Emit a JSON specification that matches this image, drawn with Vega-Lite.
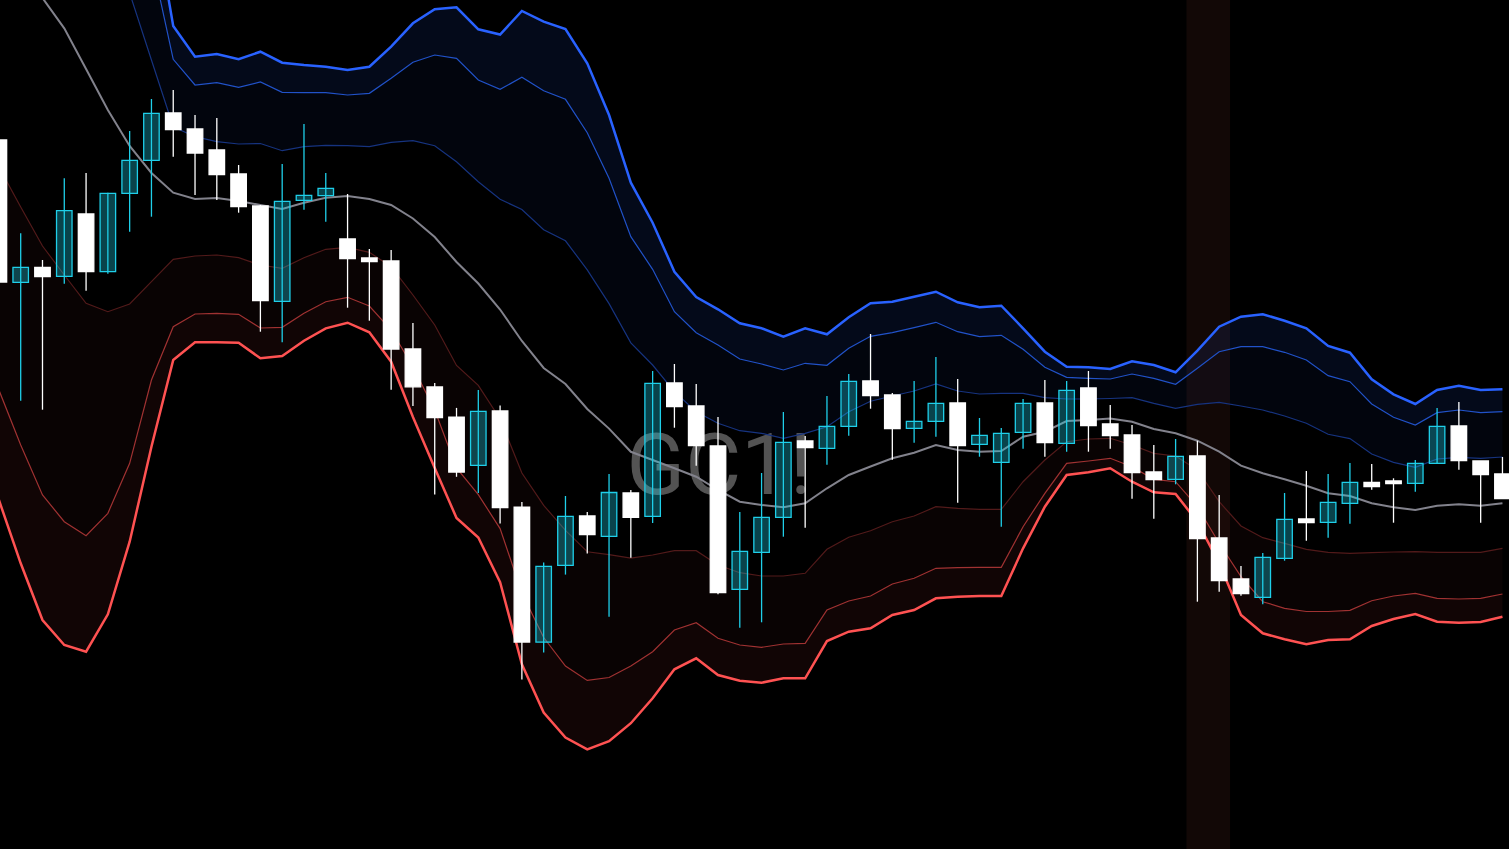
{
"$schema": "https://vega.github.io/schema/vega-lite/v6.json",
"width": 1509, "height": 849, "padding": 0, "autosize": {"type": "fit", "contains": "padding"},
"background": "#000000",
"config": {"view": {"stroke": null}},
"datasets": {
"band": [{"s": 54.5, "e": 56.5}],
"wm": [{"t": "GC1!", "x": 33.05, "y": 2050.6}],
"bars": [
{"i":0,"o":2086.0,"h":2087.2,"l":2070.0,"c":2071.8,"m":2107.0,"u1":2126,"u2":2133,"u3":2140,"l1":2083.3,"l2":2061.0,"l3":2050.0},
{"i":1,"o":2071.77,"h":2076.67,"l":2059.93,"c":2073.27,"m":2103.5,"u1":2122,"u2":2130,"u3":2137,"l1":2079.3,"l2":2055.5,"l3":2043.67},
{"i":2,"o":2073.27,"h":2074.0,"l":2059.03,"c":2072.33,"m":2100.2,"u1":2118,"u2":2126.5,"u3":2133,"l1":2075.4,"l2":2050.5,"l3":2038.0},
{"i":3,"o":2072.37,"h":2082.17,"l":2071.63,"c":2078.93,"m":2097.17,"u1":2114,"u2":2123,"u3":2129,"l1":2072.5,"l2":2047.83,"l3":2035.5},
{"i":4,"o":2078.6,"h":2082.7,"l":2070.93,"c":2072.83,"m":2093.1,"u1":2110,"u2":2119,"u3":2125,"l1":2069.67,"l2":2046.43,"l3":2034.83},
{"i":5,"o":2072.83,"h":2080.73,"l":2072.63,"c":2080.67,"m":2089.0,"u1":2105.5,"u2":2114.5,"u3":2120,"l1":2068.83,"l2":2048.67,"l3":2038.57},
{"i":6,"o":2080.67,"h":2086.9,"l":2076.83,"c":2083.97,"m":2085.4,"u1":2100.7,"u2":2110,"u3":2115,"l1":2069.6,"l2":2053.67,"l3":2045.83},
{"i":7,"o":2083.97,"h":2090.1,"l":2078.33,"c":2088.67,"m":2082.7,"u1":2094.0,"u2":2104.1,"u3":2110,"l1":2071.83,"l2":2062.0,"l3":2055.33},
{"i":8,"o":2088.7,"h":2091.0,"l":2084.33,"c":2087.03,"m":2080.73,"u1":2087.33,"u2":2094.07,"u3":2097.4,"l1":2074.07,"l2":2067.33,"l3":2064.0},
{"i":9,"o":2087.1,"h":2088.5,"l":2080.5,"c":2084.7,"m":2080.1,"u1":2086.33,"u2":2091.5,"u3":2094.33,"l1":2074.4,"l2":2068.6,"l3":2065.77},
{"i":10,"o":2085.0,"h":2088.2,"l":2080.0,"c":2082.53,"m":2080.2,"u1":2085.83,"u2":2091.73,"u3":2094.6,"l1":2074.5,"l2":2068.67,"l3":2065.77},
{"i":11,"o":2082.6,"h":2083.5,"l":2078.73,"c":2079.33,"m":2079.9,"u1":2085.6,"u2":2091.27,"u3":2094.07,"l1":2074.23,"l2":2068.57,"l3":2065.73},
{"i":12,"o":2079.4,"h":2079.5,"l":2066.83,"c":2069.93,"m":2079.5,"u1":2085.65,"u2":2091.8,"u3":2094.83,"l1":2073.5,"l2":2067.2,"l3":2064.17},
{"i":13,"o":2069.87,"h":2083.6,"l":2065.77,"c":2079.87,"m":2079.1,"u1":2084.93,"u2":2090.77,"u3":2093.73,"l1":2073.17,"l2":2067.27,"l3":2064.4},
{"i":14,"o":2079.97,"h":2087.6,"l":2079.03,"c":2080.47,"m":2079.73,"u1":2085.33,"u2":2090.73,"u3":2093.5,"l1":2074.23,"l2":2068.67,"l3":2065.93},
{"i":15,"o":2080.43,"h":2082.7,"l":2077.83,"c":2081.17,"m":2080.23,"u1":2085.47,"u2":2090.73,"u3":2093.33,"l1":2075.07,"l2":2069.83,"l3":2067.17},
{"i":16,"o":2076.1,"h":2080.6,"l":2069.23,"c":2074.13,"m":2080.4,"u1":2085.43,"u2":2090.5,"u3":2093.0,"l1":2075.27,"l2":2070.27,"l3":2067.73},
{"i":17,"o":2074.2,"h":2075.1,"l":2067.93,"c":2073.83,"m":2080.1,"u1":2085.33,"u2":2090.67,"u3":2093.33,"l1":2074.77,"l2":2069.4,"l3":2066.77},
{"i":18,"o":2073.9,"h":2075.0,"l":2061.03,"c":2065.1,"m":2079.5,"u1":2085.77,"u2":2092.17,"u3":2095.33,"l1":2073.33,"l2":2067.0,"l3":2063.83},
{"i":19,"o":2065.1,"h":2067.7,"l":2059.4,"c":2061.32,"m":2078.15,"u1":2085.93,"u2":2093.77,"u3":2097.67,"l1":2070.5,"l2":2063.33,"l3":2058.3},
{"i":20,"o":2061.3,"h":2061.7,"l":2050.54,"c":2058.25,"m":2076.3,"u1":2085.43,"u2":2094.5,"u3":2099.07,"l1":2067.5,"l2":2059.0,"l3":2053.2},
{"i":21,"o":2058.29,"h":2059.21,"l":2052.32,"c":2052.79,"m":2073.8,"u1":2083.83,"u2":2094.17,"u3":2099.27,"l1":2063.45,"l2":2053.2,"l3":2048.2},
{"i":22,"o":2053.46,"h":2061.0,"l":2050.71,"c":2058.86,"m":2071.65,"u1":2081.83,"u2":2092.0,"u3":2097.07,"l1":2061.47,"l2":2050.54,"l3":2046.25},
{"i":23,"o":2058.9,"h":2059.46,"l":2047.64,"c":2049.25,"m":2069.05,"u1":2080.07,"u2":2091.07,"u3":2096.55,"l1":2058.1,"l2":2047.14,"l3":2041.79},
{"i":24,"o":2049.29,"h":2049.8,"l":2032.04,"c":2035.79,"m":2065.9,"u1":2079.05,"u2":2092.27,"u3":2098.9,"l1":2052.7,"l2":2040.71,"l3":2033.57},
{"i":25,"o":2035.79,"h":2043.75,"l":2034.75,"c":2043.36,"m":2063.2,"u1":2077.02,"u2":2090.93,"u3":2097.83,"l1":2049.46,"l2":2036.25,"l3":2028.75},
{"i":26,"o":2043.46,"h":2050.4,"l":2042.54,"c":2048.36,"m":2061.6,"u1":2075.92,"u2":2090.07,"u3":2097.1,"l1":2046.96,"l2":2033.4,"l3":2026.25},
{"i":27,"o":2048.4,"h":2048.8,"l":2044.64,"c":2046.54,"m":2059.1,"u1":2073.02,"u2":2086.73,"u3":2093.67,"l1":2044.82,"l2":2031.96,"l3":2025.07},
{"i":28,"o":2046.36,"h":2052.61,"l":2038.32,"c":2050.75,"m":2057.14,"u1":2069.64,"u2":2082.17,"u3":2088.5,"l1":2044.54,"l2":2032.25,"l3":2025.89},
{"i":29,"o":2050.7,"h":2051.0,"l":2044.22,"c":2048.26,"m":2054.82,"u1":2065.71,"u2":2076.33,"u3":2081.73,"l1":2044.18,"l2":2033.4,"l3":2027.68},
{"i":30,"o":2048.37,"h":2062.9,"l":2047.7,"c":2061.67,"m":2054.0,"u1":2063.5,"u2":2073.07,"u3":2077.73,"l1":2044.5,"l2":2034.83,"l3":2030.17},
{"i":31,"o":2061.7,"h":2063.6,"l":2057.23,"c":2059.33,"m":2053.17,"u1":2060.83,"u2":2068.83,"u3":2072.83,"l1":2044.93,"l2":2037.0,"l3":2033.07},
{"i":32,"o":2059.4,"h":2061.6,"l":2053.43,"c":2055.43,"m":2052.33,"u1":2058.83,"u2":2066.73,"u3":2070.3,"l1":2044.93,"l2":2037.73,"l3":2034.17},
{"i":33,"o":2055.4,"h":2058.3,"l":2040.57,"c":2040.73,"m":2051.0,"u1":2057.67,"u2":2065.5,"u3":2069.07,"l1":2043.5,"l2":2036.17,"l3":2032.5},
{"i":34,"o":2041.07,"h":2048.8,"l":2037.23,"c":2044.87,"m":2049.83,"u1":2056.93,"u2":2064.1,"u3":2067.67,"l1":2042.73,"l2":2035.5,"l3":2031.93},
{"i":35,"o":2044.77,"h":2052.7,"l":2037.77,"c":2048.27,"m":2049.5,"u1":2056.67,"u2":2063.6,"u3":2067.17,"l1":2042.4,"l2":2035.27,"l3":2031.73},
{"i":36,"o":2048.27,"h":2058.8,"l":2046.33,"c":2055.77,"m":2049.27,"u1":2056.17,"u2":2063.0,"u3":2066.33,"l1":2042.4,"l2":2035.6,"l3":2032.17},
{"i":37,"o":2055.9,"h":2056.4,"l":2047.23,"c":2055.23,"m":2049.67,"u1":2056.67,"u2":2063.67,"u3":2067.17,"l1":2042.67,"l2":2035.67,"l3":2032.17},
{"i":38,"o":2055.17,"h":2060.4,"l":2053.53,"c":2057.37,"m":2051.17,"u1":2057.33,"u2":2063.47,"u3":2066.57,"l1":2045.07,"l2":2039.0,"l3":2035.9},
{"i":39,"o":2057.37,"h":2062.6,"l":2056.43,"c":2061.87,"m":2052.5,"u1":2058.83,"u2":2065.17,"u3":2068.27,"l1":2046.27,"l2":2039.9,"l3":2036.83},
{"i":40,"o":2061.9,"h":2066.6,"l":2059.13,"c":2060.43,"m":2053.35,"u1":2059.88,"u2":2066.37,"u3":2069.67,"l1":2046.92,"l2":2040.4,"l3":2037.17},
{"i":41,"o":2060.5,"h":2060.7,"l":2054.03,"c":2057.13,"m":2054.17,"u1":2060.4,"u2":2066.73,"u3":2069.83,"l1":2047.83,"l2":2041.6,"l3":2038.5},
{"i":42,"o":2057.17,"h":2061.9,"l":2055.73,"c":2057.87,"m":2054.73,"u1":2060.9,"u2":2067.23,"u3":2070.33,"l1":2048.4,"l2":2042.17,"l3":2039.0},
{"i":43,"o":2057.87,"h":2064.3,"l":2056.33,"c":2059.67,"m":2055.5,"u1":2061.6,"u2":2067.77,"u3":2070.83,"l1":2049.33,"l2":2043.17,"l3":2040.17},
{"i":44,"o":2059.7,"h":2062.1,"l":2049.73,"c":2055.43,"m":2055.0,"u1":2060.9,"u2":2066.83,"u3":2069.77,"l1":2049.17,"l2":2043.23,"l3":2040.33},
{"i":45,"o":2055.57,"h":2058.2,"l":2054.33,"c":2056.47,"m":2054.83,"u1":2060.6,"u2":2066.33,"u3":2069.27,"l1":2049.07,"l2":2043.27,"l3":2040.4},
{"i":46,"o":2053.77,"h":2057.2,"l":2047.33,"c":2056.67,"m":2054.9,"u1":2060.67,"u2":2066.47,"u3":2069.43,"l1":2049.07,"l2":2043.27,"l3":2040.4},
{"i":47,"o":2056.77,"h":2060.1,"l":2055.13,"c":2059.67,"m":2056.33,"u1":2060.67,"u2":2065.07,"u3":2067.17,"l1":2051.83,"l2":2047.33,"l3":2045.17},
{"i":48,"o":2059.7,"h":2062.0,"l":2054.33,"c":2055.73,"m":2056.83,"u1":2060.23,"u2":2063.27,"u3":2064.83,"l1":2054.0,"l2":2050.67,"l3":2049.33},
{"i":49,"o":2055.67,"h":2061.9,"l":2054.83,"c":2060.97,"m":2057.9,"u1":2060.1,"u2":2062.27,"u3":2063.33,"l1":2055.83,"l2":2053.67,"l3":2052.5},
{"i":50,"o":2061.2,"h":2062.9,"l":2054.83,"c":2057.43,"m":2058.0,"u1":2060.1,"u2":2062.17,"u3":2063.27,"l1":2056.1,"l2":2053.9,"l3":2052.77},
{"i":51,"o":2057.6,"h":2059.5,"l":2055.13,"c":2056.43,"m":2058.15,"u1":2060.15,"u2":2062.1,"u3":2063.1,"l1":2056.17,"l2":2054.17,"l3":2053.17},
{"i":52,"o":2056.5,"h":2057.5,"l":2050.13,"c":2052.73,"m":2057.83,"u1":2060.23,"u2":2062.6,"u3":2063.87,"l1":2055.5,"l2":2053.33,"l3":2051.83},
{"i":53,"o":2052.8,"h":2055.5,"l":2048.13,"c":2052.03,"m":2057.1,"u1":2059.67,"u2":2062.17,"u3":2063.5,"l1":2054.67,"l2":2052.07,"l3":2050.77},
{"i":54,"o":2052.07,"h":2056.1,"l":2051.57,"c":2054.37,"m":2056.67,"u1":2059.17,"u2":2061.57,"u3":2062.77,"l1":2054.4,"l2":2051.83,"l3":2050.6},
{"i":55,"o":2054.4,"h":2055.93,"l":2039.83,"c":2046.13,"m":2055.93,"u1":2059.57,"u2":2063.17,"u3":2064.93,"l1":2053.0,"l2":2049.33,"l3":2047.83},
{"i":56,"o":2046.2,"h":2050.5,"l":2040.83,"c":2041.93,"m":2054.83,"u1":2059.77,"u2":2064.83,"u3":2067.33,"l1":2049.83,"l2":2045.67,"l3":2043.67},
{"i":57,"o":2042.1,"h":2043.4,"l":2040.43,"c":2040.63,"m":2053.43,"u1":2059.4,"u2":2065.33,"u3":2068.33,"l1":2047.4,"l2":2042.33,"l3":2038.5},
{"i":58,"o":2040.27,"h":2044.7,"l":2039.57,"c":2044.27,"m":2052.67,"u1":2059.0,"u2":2065.33,"u3":2068.57,"l1":2046.23,"l2":2039.83,"l3":2036.67},
{"i":59,"o":2044.17,"h":2050.7,"l":2043.93,"c":2048.07,"m":2052.07,"u1":2058.4,"u2":2064.77,"u3":2067.93,"l1":2045.67,"l2":2039.17,"l3":2036.07},
{"i":60,"o":2048.1,"h":2052.9,"l":2045.93,"c":2047.73,"m":2051.43,"u1":2057.67,"u2":2064.0,"u3":2067.17,"l1":2045.07,"l2":2038.85,"l3":2035.57},
{"i":61,"o":2047.77,"h":2052.6,"l":2046.23,"c":2049.77,"m":2050.67,"u1":2056.57,"u2":2062.43,"u3":2065.4,"l1":2044.77,"l2":2038.85,"l3":2036.0},
{"i":62,"o":2049.67,"h":2053.7,"l":2047.63,"c":2051.77,"m":2050.4,"u1":2056.14,"u2":2061.83,"u3":2064.73,"l1":2044.67,"l2":2038.97,"l3":2036.08},
{"i":63,"o":2051.77,"h":2053.6,"l":2051.03,"c":2051.33,"m":2049.67,"u1":2054.6,"u2":2059.6,"u3":2062.07,"l1":2044.73,"l2":2039.93,"l3":2037.4},
{"i":64,"o":2051.9,"h":2052.17,"l":2047.73,"c":2051.63,"m":2049.27,"u1":2053.77,"u2":2058.27,"u3":2060.57,"l1":2044.8,"l2":2040.4,"l3":2038.1},
{"i":65,"o":2051.67,"h":2054.0,"l":2050.83,"c":2053.67,"m":2049.0,"u1":2053.27,"u2":2057.5,"u3":2059.6,"l1":2044.83,"l2":2040.67,"l3":2038.6},
{"i":66,"o":2053.67,"h":2059.2,"l":2053.67,"c":2057.37,"m":2049.43,"u1":2054.1,"u2":2058.73,"u3":2061.0,"l1":2044.77,"l2":2040.17,"l3":2037.83},
{"i":67,"o":2057.4,"h":2059.8,"l":2053.03,"c":2053.93,"m":2049.57,"u1":2054.27,"u2":2059.0,"u3":2061.43,"l1":2044.77,"l2":2040.1,"l3":2037.73},
{"i":68,"o":2053.9,"h":2053.9,"l":2047.73,"c":2052.53,"m":2049.43,"u1":2054.17,"u2":2058.73,"u3":2061.0,"l1":2044.77,"l2":2040.17,"l3":2037.8},
{"i":69,"o":2052.6,"h":2054.3,"l":2050.13,"c":2050.13,"m":2049.67,"u1":2054.3,"u2":2058.83,"u3":2061.07,"l1":2045.17,"l2":2040.6,"l3":2038.33}
]
},
"layer": [
{"data": {"name": "band"}, "mark": {"type": "rect", "color": "#120806", "clip": true},
 "encoding": {"x": {"field": "s", "type": "quantitative", "scale": {"domain": [0.05, 69.3], "nice": false, "zero": false, "padding": 0}, "axis": null}, "x2": {"field": "e"}}},
{"data": {"name": "wm"}, "mark": {"type": "text", "font": "Roboto", "fontSize": 86, "align": "center", "baseline": "alphabetic", "color": "#535353"},
 "encoding": {"x": {"field": "x", "type": "quantitative", "scale": {"domain": [0.05, 69.3], "nice": false, "zero": false, "padding": 0}, "axis": null},
  "y": {"field": "y", "type": "quantitative", "scale": {"domain": [2015.1, 2100], "nice": false, "zero": false, "padding": 0}, "axis": null},
  "text": {"field": "t"}}},
{"data": {"name": "bars"},
 "encoding": {"x": {"field": "i", "type": "quantitative", "scale": {"domain": [0.05, 69.3], "nice": false, "zero": false, "padding": 0}, "axis": null}},
 "layer": [
  {"mark": {"type": "area", "color": "#2962ff", "opacity": 0.1, "clip": true},
   "encoding": {"y": {"field": "u3", "type": "quantitative", "scale": {"domain": [2015.1, 2100], "nice": false, "zero": false, "padding": 0}, "axis": null}, "y2": {"field": "u2"}}},
  {"mark": {"type": "area", "color": "#2962ff", "opacity": 0.05, "clip": true},
   "encoding": {"y": {"field": "u2", "type": "quantitative", "scale": {"domain": [2015.1, 2100], "nice": false, "zero": false, "padding": 0}, "axis": null}, "y2": {"field": "u1"}}},
  {"mark": {"type": "area", "color": "#ff5252", "opacity": 0.035, "clip": true},
   "encoding": {"y": {"field": "l1", "type": "quantitative", "scale": {"domain": [2015.1, 2100], "nice": false, "zero": false, "padding": 0}, "axis": null}, "y2": {"field": "l2"}}},
  {"mark": {"type": "area", "color": "#ff5252", "opacity": 0.065, "clip": true},
   "encoding": {"y": {"field": "l2", "type": "quantitative", "scale": {"domain": [2015.1, 2100], "nice": false, "zero": false, "padding": 0}, "axis": null}, "y2": {"field": "l3"}}},
  {"mark": {"type": "line", "color": "#16337f", "strokeWidth": 1.2, "clip": true},
   "encoding": {"y": {"field": "u1", "type": "quantitative", "scale": {"domain": [2015.1, 2100], "nice": false, "zero": false, "padding": 0}, "axis": null}}},
  {"mark": {"type": "line", "color": "#2152c8", "strokeWidth": 1.2, "clip": true},
   "encoding": {"y": {"field": "u2", "type": "quantitative", "scale": {"domain": [2015.1, 2100], "nice": false, "zero": false, "padding": 0}, "axis": null}}},
  {"mark": {"type": "line", "color": "#2962ff", "strokeWidth": 2.5, "clip": true},
   "encoding": {"y": {"field": "u3", "type": "quantitative", "scale": {"domain": [2015.1, 2100], "nice": false, "zero": false, "padding": 0}, "axis": null}}},
  {"mark": {"type": "line", "color": "#82828c", "strokeWidth": 2, "clip": true},
   "encoding": {"y": {"field": "m", "type": "quantitative", "scale": {"domain": [2015.1, 2100], "nice": false, "zero": false, "padding": 0}, "axis": null}}},
  {"mark": {"type": "line", "color": "#521a1a", "strokeWidth": 1.2, "clip": true},
   "encoding": {"y": {"field": "l1", "type": "quantitative", "scale": {"domain": [2015.1, 2100], "nice": false, "zero": false, "padding": 0}, "axis": null}}},
  {"mark": {"type": "line", "color": "#a03232", "strokeWidth": 1.2, "clip": true},
   "encoding": {"y": {"field": "l2", "type": "quantitative", "scale": {"domain": [2015.1, 2100], "nice": false, "zero": false, "padding": 0}, "axis": null}}},
  {"mark": {"type": "line", "color": "#ff5252", "strokeWidth": 2.5, "clip": true},
   "encoding": {"y": {"field": "l3", "type": "quantitative", "scale": {"domain": [2015.1, 2100], "nice": false, "zero": false, "padding": 0}, "axis": null}}},
  {"mark": {"type": "rule", "strokeWidth": 1.3, "clip": true},
   "encoding": {"y": {"field": "h", "type": "quantitative", "scale": {"domain": [2015.1, 2100], "nice": false, "zero": false, "padding": 0}, "axis": null}, "y2": {"field": "l"},
    "color": {"condition": {"test": "datum.c > datum.o", "value": "#1fcfe9"}, "value": "#ffffff"}}},
  {"mark": {"type": "bar", "size": 15.5, "strokeWidth": 1.3, "clip": true},
   "encoding": {"y": {"field": "o", "type": "quantitative", "scale": {"domain": [2015.1, 2100], "nice": false, "zero": false, "padding": 0}, "axis": null}, "y2": {"field": "c"},
    "fill": {"condition": {"test": "datum.c > datum.o", "value": "rgba(28,207,232,0.32)"}, "value": "#ffffff"},
    "stroke": {"condition": {"test": "datum.c > datum.o", "value": "#1fcfe9"}, "value": "#ffffff"}}}
 ]}
]
}
